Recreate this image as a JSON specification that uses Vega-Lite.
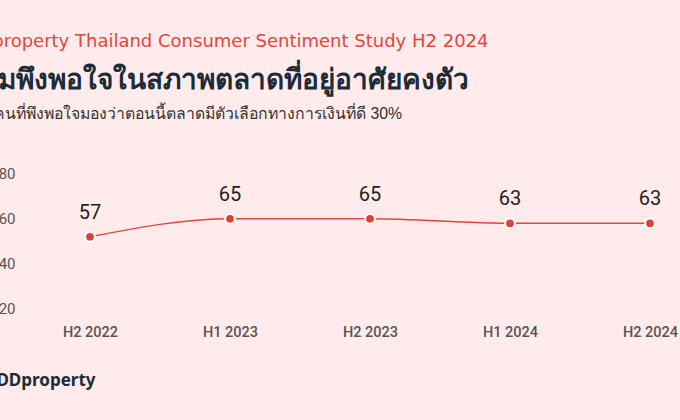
{
  "$schema": "https://vega.github.io/schema/vega-lite/v6.json",
  "autosize": {"type": "none"},
  "background": "#FFEBEB",
  "padding": {"left": 20, "top": 185, "right": 0, "bottom": 100},
  "width": 660,
  "height": 135,
  "view": {"stroke": null},
  "title": {
    "text": "ความพึงพอใจในสภาพตลาดที่อยู่อาศัยคงตัว",
    "subtitle": "สำหรับคนที่พึงพอใจมองว่าตอนนี้ตลาดมีตัวเลือกทางการเงินที่ดี 30%",
    "anchor": "start",
    "frame": "group",
    "dx": -73,
    "fontSize": 28,
    "fontWeight": "bold",
    "color": "#1C2B39",
    "subtitleFontSize": 15.8,
    "subtitleColor": "#333333",
    "subtitlePadding": 12,
    "offset": -90
  },
  "data": {
    "values": [
      {"period": "H2 2022", "value": 57},
      {"period": "H1 2023", "value": 65},
      {"period": "H2 2023", "value": 65},
      {"period": "H1 2024", "value": 63},
      {"period": "H2 2024", "value": 63}
    ]
  },
  "encoding": {
    "x": {
      "field": "period",
      "type": "ordinal",
      "sort": null,
      "scale": {"type": "point", "padding": 0.357, "align": 0.7},
      "axis": {
        "labelAngle": 0,
        "labelFont": "Roboto",
        "labelFontSize": 14.5,
        "labelFontWeight": 500,
        "labelColor": "#555555",
        "labelBaseline": "top",
        "labelPadding": 5,
        "ticks": false,
        "domain": false,
        "grid": false,
        "title": "DDproperty",
        "titleFont": "Noto Sans",
        "titleFontSize": 17,
        "titleFontWeight": "bold",
        "titleColor": "#1C2B39",
        "titleAlign": "right",
        "titleAnchor": "start",
        "titleBaseline": "middle",
        "titleX": 75,
        "titleY": 60
      }
    },
    "y": {
      "field": "value",
      "type": "quantitative",
      "scale": {"domain": [20, 80], "nice": false, "zero": false},
      "axis": {
        "values": [20, 40, 60, 80],
        "labelFont": "Roboto",
        "labelFontSize": 15,
        "labelColor": "#555555",
        "labelBaseline": "bottom",
        "labelOffset": -4,
        "labelPadding": 5,
        "ticks": false,
        "domain": false,
        "grid": false,
        "title": "DDproperty Thailand Consumer Sentiment Study H2 2024",
        "titleFont": "DejaVu Sans",
        "titleFontSize": 18,
        "titleFontWeight": "normal",
        "titleColor": "#E2463C",
        "titleAngle": 0,
        "titleAlign": "right",
        "titleAnchor": "start",
        "titleBaseline": "middle",
        "titleX": 468,
        "titleY": -144
      }
    }
  },
  "layer": [
    {
      "mark": {"type": "line", "color": "#E2463C", "strokeWidth": 1.5, "interpolate": "monotone"}
    },
    {
      "mark": {"type": "point", "filled": true, "color": "#E0403A", "size": 95, "stroke": "white", "strokeWidth": 2, "opacity": 1}
    },
    {
      "mark": {"type": "text", "dy": -24, "font": "Roboto", "fontSize": 20, "color": "#222222"},
      "encoding": {"text": {"field": "value", "type": "quantitative"}}
    }
  ]
}
